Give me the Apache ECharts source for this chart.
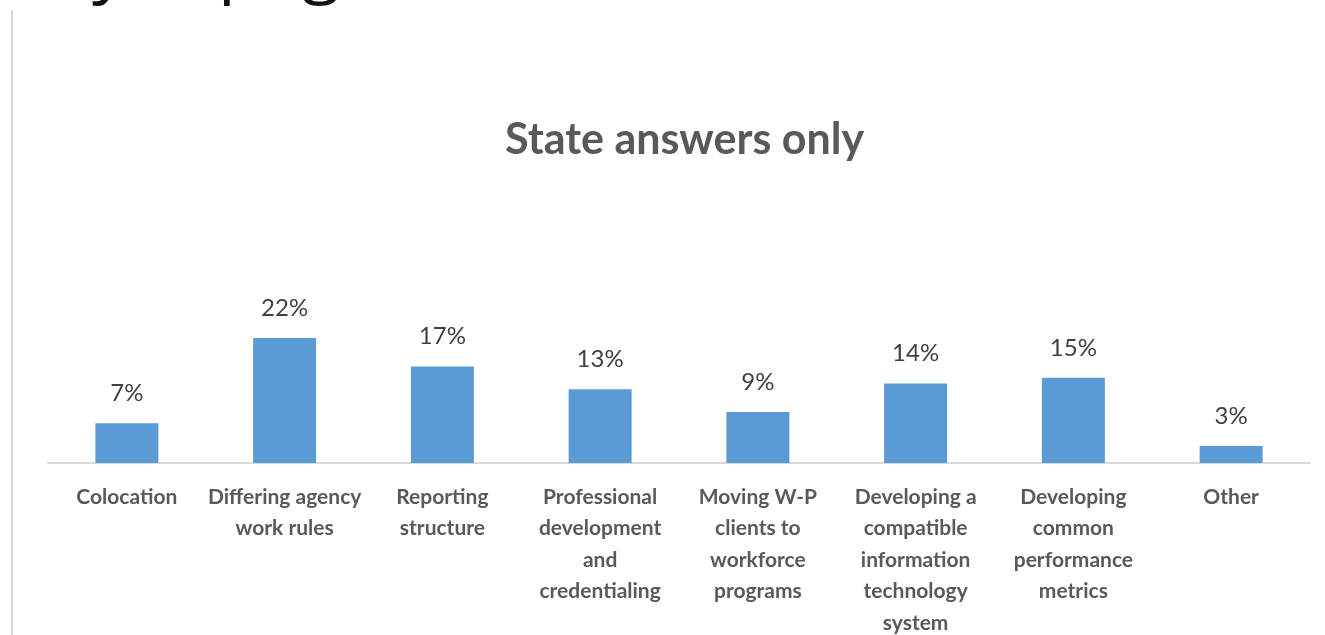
<!DOCTYPE html>
<html>
<head>
<meta charset="utf-8">
<script src="https://cdn.jsdelivr.net/npm/echarts@6/dist/echarts.min.js"></script>
<style>
  html, body { margin: 0; padding: 0; background: #fff; }
  #chart { width: 1325px; height: 635px; }
</style>
</head>
<body>
<div id="chart"></div>
<script>
const titleText = 'State answers only'
const categories = [
  'Colocation',
  'Differing agency\nwork rules',
  'Reporting\nstructure',
  'Professional\ndevelopment\nand\ncredentialing',
  'Moving W-P\nclients to\nworkforce\nprograms',
  'Developing a\ncompatible\ninformation\ntechnology\nsystem',
  'Developing\ncommon\nperformance\nmetrics',
  'Other'
]
const shares = [7, 22, 17, 13, 9, 14, 15, 3]

const barColor = '#5b9bd5'
const textGray = '#595959'

const chart = echarts.init(document.getElementById('chart'))

chart.setOption({
  animation: false,
  title: {
    text: titleText,
    left: 500,
    top: 114,
    textStyle: {
      fontFamily: 'Lato',
      fontWeight: 'bold',
      fontSize: 43,
      color: textGray
    }
  },
  graphic: [
    // left border line of the slide
    {
      type: 'line',
      shape: { x1: 12, y1: 10, x2: 12, y2: 635 },
      style: { stroke: '#d9d9d9', lineWidth: 2 }
    },
    // descenders of the cut-off heading above
    { type: 'text', left: 92, top: -66, style: { text: 'y', font: '70px "Open Sans"', fill: '#111' } },
    { type: 'text', left: 218, top: -66, style: { text: 'p', font: '70px "Open Sans"', fill: '#111' } },
    { type: 'text', left: 302, top: -66, style: { text: 'g', font: '70px "Open Sans"', fill: '#111' } }
  ],
  grid: {
    left: 48,
    right: 15,
    top: 321,
    bottom: 172,
    containLabel: false,
    outerBoundsMode: 'none'
  },
  xAxis: {
    type: 'category',
    data: categories,
    axisTick: { show: false },
    axisLine: { lineStyle: { color: '#d9d9d9', width: 2 } },
    axisLabel: {
      interval: 0,
      margin: 18,
      fontFamily: 'Lato',
      fontWeight: 'bold',
      fontSize: 21,
      lineHeight: 31.5,
      color: textGray
    }
  },
  yAxis: {
    type: 'value',
    min: 0,
    max: 25,
    show: false,
    splitLine: { show: false }
  },
  series: [{
    type: 'bar',
    data: shares,
    barWidth: 63,
    itemStyle: { color: barColor },
    label: {
      show: true,
      position: 'top',
      distance: 18,
      formatter: '{c}%',
      fontFamily: 'Lato',
      fontSize: 24,
      color: '#404040'
    }
  }]
})
</script>
</body>
</html>
